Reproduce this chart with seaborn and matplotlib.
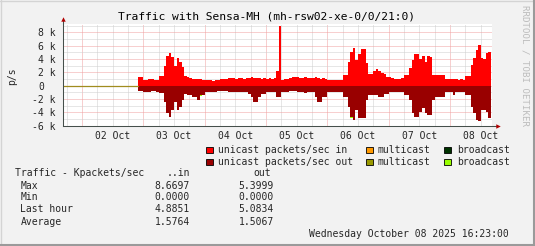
import numpy as np
import pandas as pd
import matplotlib
matplotlib.use("Agg")
import matplotlib.pyplot as plt
import seaborn as sns
from matplotlib.patches import Rectangle
from matplotlib.lines import Line2D
from matplotlib.ticker import FixedLocator, FuncFormatter

# ---------------- data (kpackets/s, hourly steps from Oct 2 22:00) ----------------
day_labels = ["02 Oct", "03 Oct", "04 Oct", "05 Oct", "06 Oct", "07 Oct", "08 Oct"]
start_hour = 22.0          # data starts Oct 2 22:00 (hours since Oct 2 00:00)
x_min, x_max = -7.4, 160.4  # Oct 1 16:23 .. Oct 8 16:23

unicast_in = [
    1.25, 1.25, 0.85, 0.9, 1.0, 1.0, 0.85, 0.85, 1.4, 1.45,
    2.95, 4.5, 4.95, 4.25, 3.0, 4.1, 3.6, 2.85, 1.45, 1.25,
    1.1, 1.05, 1.05, 0.95, 0.95, 0.9, 0.8, 0.8, 0.8, 0.75,
    0.8, 0.8, 1.0, 1.05, 1.05, 1.1, 1.1, 1.15, 1.05, 1.1,
    1.1, 1.05, 1.2, 1.15, 1.25, 1.2, 1.1, 1.15, 1.05, 1.1,
    1.0, 1.1, 1.05, 1.15, 2.2, 8.9, 0.85, 1.0, 1.0, 1.1,
    1.25, 1.25, 1.3, 1.2, 1.2, 1.25, 1.15, 1.2, 1.2, 1.3,
    1.15, 1.05, 1.1, 1.0, 0.85, 0.85, 0.8, 0.85, 0.85, 0.85,
    1.6, 1.65, 3.6, 5.1, 5.6, 3.85, 4.7, 5.45, 5.45, 3.35,
    1.75, 1.75, 2.2, 2.45, 2.2, 1.95, 1.75, 1.35, 1.3, 1.2,
    1.05, 1.05, 1.05, 1.1, 1.6, 1.65, 2.6, 3.85, 4.75, 4.75,
    3.95, 4.45, 3.6, 4.45, 4.35, 1.6, 1.6, 1.6, 1.6, 1.6,
    1.05, 1.05, 1.0, 0.95, 0.95, 0.9, 0.95, 0.9, 1.45, 1.45,
    3.1, 4.1, 5.35, 6.1, 4.1, 3.95, 4.85, 5.1,
]
unicast_out = [
    -0.75, -0.75, -0.9, -0.9, -0.9, -0.85, -0.75, -0.9, -1.05, -1.05,
    -2.4, -4.15, -4.75, -3.65, -2.4, -3.65, -3.15, -2.15, -1.3, -1.4,
    -1.4, -1.65, -1.65, -2.15, -1.4, -1.4, -0.9, -0.9, -0.95, -0.9,
    -0.9, -0.85, -0.75, -0.75, -0.75, -0.9, -0.9, -0.95, -0.9, -0.9,
    -0.9, -0.95, -1.0, -1.25, -1.65, -2.5, -2.5, -1.65, -1.25, -1.25,
    -0.9, -0.9, -0.95, -0.9, -1.65, -1.75, -0.9, -0.9, -0.9, -0.75,
    -0.75, -0.8, -1.0, -1.0, -1.0, -1.05, -1.0, -1.0, -1.0, -1.65,
    -2.4, -2.4, -1.65, -1.65, -0.9, -0.9, -0.95, -0.9, -0.9, -0.9,
    -1.65, -1.65, -3.15, -4.65, -5.15, -3.65, -4.9, -4.9, -4.9, -2.15,
    -1.4, -1.4, -1.4, -1.4, -1.75, -1.75, -1.25, -1.25, -0.9, -0.9,
    -0.9, -0.95, -0.9, -0.9, -1.4, -1.4, -2.15, -4.05, -4.65, -4.65,
    -3.9, -3.4, -4.15, -4.4, -4.4, -2.15, -1.65, -1.65, -1.65, -1.65,
    -0.9, -0.9, -0.9, -1.4, -0.9, -0.9, -0.9, -0.9, -1.4, -1.4,
    -3.15, -4.15, -5.15, -5.35, -3.65, -3.65, -3.9, -4.9,
]
broadcast_out_idx = [24, 34, 83, 110]
broadcast_out_val = [0.12, 0.12, 0.15, 0.12]

legend_labels = ["unicast packets/sec in", "multicast", "broadcast",
                 "unicast packets/sec out", "multicast", "broadcast"]
legend_colors = ["#ff0000", "#ff9900", "#003300",
                 "#990000", "#999900", "#99ff00"]

stat_names = ["Max", "Min", "Last hour", "Average"]
stat_in = ["8.6697", "0.0000", "4.8851", "1.5764"]
stat_out = ["5.3999", "0.0000", "5.0834", "1.5067"]

title = "Traffic with Sensa-MH (mh-rsw02-xe-0/0/21:0)"
timestamp = "Wednesday October 08 2025 16:23:00"

# ---------------- style ----------------
sns.set_style("white")
plt.rcParams["font.family"] = ["DejaVu Sans Mono"]
FS = 7.0
BG = "#f2f2f2"

W, H = 535, 246
fig = plt.figure(figsize=(W / 100, H / 100), dpi=100, facecolor=BG)

def fx(px):
    return px / W

def fy(py):
    return 1 - py / H

ax_l, ax_r, ax_t, ax_b = 63, 492, 24, 125.7
ax = fig.add_axes([fx(ax_l), fy(ax_b), (ax_r - ax_l) / W, (ax_b - ax_t) / H])
ax.set_facecolor("white")

n = len(unicast_in)
edges = [start_hour + k for k in range(n + 1)]
b_out = np.zeros(n)
b_out[broadcast_out_idx] = broadcast_out_val
df = pd.DataFrame({
    "hour": np.array(edges[:-1]) + 0.5,
    "u_in": unicast_in,
    "u_out": unicast_out,
})
df["out_total"] = df["u_out"] - b_out

common = dict(data=df, x="hour", bins=edges, element="step", fill=True,
              alpha=1, linewidth=0, ax=ax)
sns.histplot(weights="out_total", color="#99ff00", **common)
sns.histplot(weights="u_out", color="#990000", **common)
sns.histplot(weights="u_in", color="#ff0000", **common)
sns.lineplot(x=[x_min, start_hour], y=[0, 0], color="#a08c1e", linewidth=0.9, ax=ax)

ax.set_xlim(x_min, x_max)
ax.set_ylim(-6, 9.25)
ax.set_xlabel("")
ax.set_ylabel("")
ax.set_axisbelow(True)

# x axis: midnights major, 6h minor, labels at noon
ax.xaxis.set_major_locator(FixedLocator([24 * d for d in range(len(day_labels))]))
ax.xaxis.set_major_formatter(FuncFormatter(lambda v, p: ""))
ax.xaxis.set_minor_locator(FixedLocator([h for h in range(-6, 161, 6) if h % 24]))
ax.xaxis.set_minor_formatter(FuncFormatter(
    lambda v, p: day_labels[int(v // 24)] if (v % 24 == 12 and 0 <= v // 24 < len(day_labels)) else ""))
ax.tick_params(axis="x", which="major", length=2, width=0.7, color="#b06060")
ax.tick_params(axis="x", which="minor", length=0, pad=3.6, labelsize=FS)

# y axis
yt = list(range(-6, 9, 2))
ax.yaxis.set_major_locator(FixedLocator(yt))
ax.set_yticklabels([("0" if v == 0 else f"{v} k") for v in yt])
ax.yaxis.set_minor_locator(FixedLocator(list(range(-5, 10, 2))))
ax.tick_params(axis="y", which="major", length=2, width=0.7, color="#606060",
               pad=3.2, labelsize=FS)
ax.tick_params(axis="y", which="minor", length=0)
for lab in ax.get_yticklabels():
    if lab.get_text() == "0":
        lab.set_x(-11.7 / (ax_r - ax_l))

dots = (0, (1, 1))
ax.grid(which="minor", color="#cfcfcf", linestyle=dots, linewidth=0.72)
ax.grid(which="major", color="#f0a0a0", linestyle=dots, linewidth=0.72)

for s in ["top", "right"]:
    ax.spines[s].set_visible(False)
axis_c = "#454f4b"
for s in ["left", "bottom"]:
    ax.spines[s].set_color(axis_c)
    ax.spines[s].set_linewidth(0.75)

# axis extensions + arrows
ext_x = 6 / (ax_r - ax_l)
ext_y = 5 / (ax_b - ax_t)
ax.add_line(Line2D([1, 1 + ext_x], [0, 0], transform=ax.transAxes, color=axis_c,
                   lw=0.75, clip_on=False))
ax.add_line(Line2D([0, 0], [1, 1 + ext_y], transform=ax.transAxes, color=axis_c,
                   lw=0.75, clip_on=False))
ax.plot([1 + ext_x], [0], marker=">", ms=3.2, color="#b00000", transform=ax.transAxes,
        clip_on=False, mew=0)
ax.plot([0], [1 + ext_y], marker="^", ms=3.2, color="#b00000", transform=ax.transAxes,
        clip_on=False, mew=0)

# ---------------- texts ----------------
fig.text(fx(267), fy(16.5), title, ha="center", va="center", fontsize=8.1, color="#000000")
fig.text(fx(12), fy(76), "p/s", rotation=90, ha="center", va="center", fontsize=FS)
fig.text(fx(525), fy(5), "RRDTOOL / TOBI OETIKER", rotation=270, ha="center", va="top",
         fontsize=6.6, color="#bdbdbd")

# legend
leg_x_box = [206, 366, 444]
leg_x_txt = [218, 378, 457]
leg_y = [150, 162]
for i, (lab, col) in enumerate(zip(legend_labels, legend_colors)):
    r, c = divmod(i, 3)
    y = leg_y[r]
    fig.add_artist(Rectangle((fx(leg_x_box[c]), fy(y + 3.3)), 6.5 / W, 6.5 / H,
                             transform=fig.transFigure, facecolor=col,
                             edgecolor="black", linewidth=0.6))
    fig.text(fx(leg_x_txt[c]), fy(y), lab, ha="left", va="center", fontsize=FS)

# statistics table
fig.text(fx(15), fy(173.5), "Traffic - Kpackets/sec", ha="left", va="center", fontsize=FS)
fig.text(fx(190), fy(173.5), "..in", ha="right", va="center", fontsize=FS)
fig.text(fx(271), fy(173.5), "out", ha="right", va="center", fontsize=FS)
row_y = [185.7, 197.5, 209.5, 221.7]
for name, vi, vo, y in zip(stat_names, stat_in, stat_out, row_y):
    fig.text(fx(20.5), fy(y), name, ha="left", va="center", fontsize=FS)
    fig.text(fx(190), fy(y), vi, ha="right", va="center", fontsize=FS)
    fig.text(fx(274), fy(y), vo, ha="right", va="center", fontsize=FS)

fig.text(fx(509), fy(233.7), timestamp, ha="right", va="center", fontsize=FS)

# frame
fig.add_artist(Line2D([0, 1], [fy(0.5), fy(0.5)], transform=fig.transFigure, color="#d4d4d4", lw=1))
fig.add_artist(Line2D([fx(0.5), fx(0.5)], [0, 1], transform=fig.transFigure, color="#d4d4d4", lw=1))
fig.add_artist(Line2D([0, 1], [fy(H - 1), fy(H - 1)], transform=fig.transFigure, color="#9a9a9a", lw=1.5))
fig.add_artist(Line2D([fx(W - 1), fx(W - 1)], [0, 1], transform=fig.transFigure, color="#9a9a9a", lw=1.5))

fig.savefig("out.png", dpi=100, facecolor=BG)
